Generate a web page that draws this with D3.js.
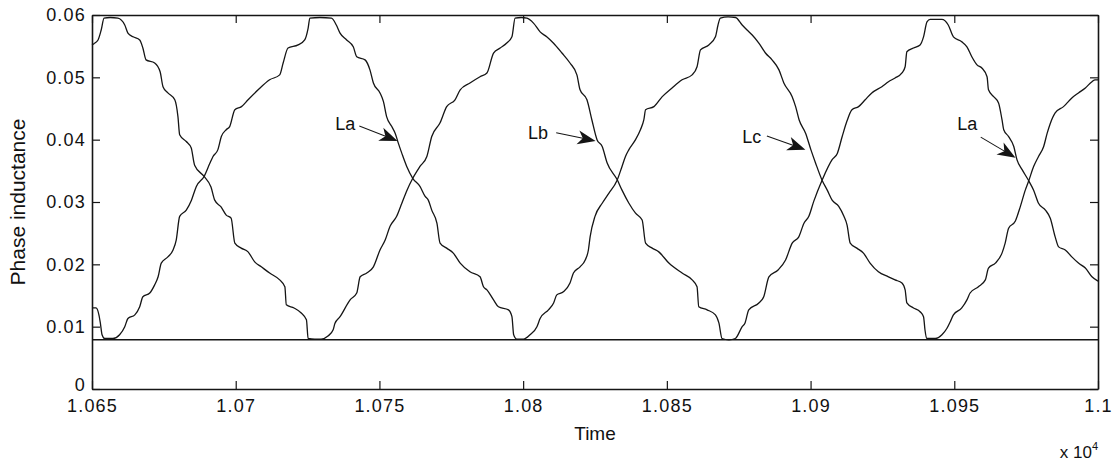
<!DOCTYPE html>
<html>
<head>
<meta charset="utf-8">
<script src="https://cdn.jsdelivr.net/npm/d3@7"></script>
<style>
  html, body { margin: 0; padding: 0; background: #fff; }
  svg { display: block; }
  text { font-family: "Liberation Sans", Arial, Helvetica, sans-serif; fill: #111; }
</style>
</head>
<body>
<svg id="chart" width="1118" height="465"></svg>
<script>
// Time axis (raw time units, shown scaled by 10^4)
const xTicks = [10650, 10700, 10750, 10800, 10850, 10900, 10950, 11000];
const xTickLabels = ["1.065", "1.07", "1.075", "1.08", "1.085", "1.09", "1.095", "1.1"];
const yTicks = [0, 0.01, 0.02, 0.03, 0.04, 0.05, 0.06];
const yTickLabels = ["0", "0.01", "0.02", "0.03", "0.04", "0.05", "0.06"];

// Minimum (unaligned) phase inductance
const minInductance = 0.0079;

// Phase inductance, first trace: [time, inductance]
const phaseCurve1 = [
  [10650,.0552],[10650.7,.0554],[10652.1,.0560],[10653.2,.0576],[10654.2,.0595],[10656.3,.0596],[10659.0,.0595],
  [10661.4,.0584],[10662.5,.0571],[10664.3,.0565],[10666.6,.0560],[10667.7,.0547],[10668.8,.0528],[10671.8,.0523],
  [10673.7,.0509],[10674.7,.0485],[10676.4,.0475],[10678.8,.0464],[10679.9,.0437],[10680.5,.0408],[10682.8,.0397],
  [10684.5,.0387],[10685.7,.0359],[10689.0,.0341],[10691.4,.0324],[10692.7,.0303],[10694.9,.0292],[10696.7,.0279],
  [10698.4,.0274],[10699.7,.0234],[10701.9,.0226],[10704.3,.0220],[10706.6,.0204],[10708.9,.0196],[10711.8,.0186],
  [10715.3,.0175],[10717.1,.0164],[10717.6,.0135],[10720.3,.0130],[10722.8,.0122],[10724.6,.0111],[10725.2,.0081],
  [10727.5,.0080],[10729.7,.0080],[10732.1,.0085],[10733.9,.0095],[10734.5,.0105],[10736.3,.0116],[10739.8,.0143],
  [10742.1,.0154],[10743.3,.0180],[10745.6,.0186],[10747.9,.0196],[10750.2,.0223],[10752.0,.0239],[10753.7,.0261],
  [10756.0,.0277],[10757.8,.0298],[10759.6,.0319],[10761.6,.0338],[10764.1,.0357],[10766.5,.0373],[10768.2,.0405],
  [10771.1,.0427],[10773.4,.0453],[10776.3,.0464],[10778.1,.0480],[10781.5,.0491],[10785.0,.0501],[10787.4,.0507],
  [10789.7,.0539],[10792.0,.0547],[10794.3,.0555],[10796.1,.0565],[10797.2,.0595],[10799.3,.0596],[10801.3,.0595],
  [10803.6,.0587],[10805.9,.0573],[10808.2,.0565],[10810.5,.0555],[10813.5,.0539],[10816.3,.0523],[10818.7,.0504],
  [10819.8,.0480],[10822.2,.0464],[10823.9,.0432],[10825.7,.0400],[10827.5,.0389],[10829.2,.0363],[10832.7,.0336],
  [10834.4,.0319],[10836.8,.0298],[10839.1,.0282],[10841.4,.0271],[10842.6,.0234],[10844.9,.0226],[10847.2,.0220],
  [10850.7,.0202],[10855.3,.0186],[10858.8,.0175],[10860.5,.0164],[10861.1,.0132],[10864.0,.0127],[10866.9,.0119],
  [10868.1,.0106],[10869.2,.0081],[10871.6,.0079],[10873.8,.0081],[10876.2,.0100],[10877.2,.0106],[10878.5,.0127],
  [10882.0,.0138],[10883.7,.0148],[10885.5,.0180],[10888.7,.0191],[10891.3,.0207],[10893.6,.0234],[10895.9,.0244],
  [10897.7,.0266],[10899.4,.0277],[10901.1,.0301],[10904.0,.0335],[10907.5,.0368],[10909.3,.0378],[10911.0,.0405],
  [10912.6,.0429],[10914.4,.0448],[10916.7,.0453],[10919.0,.0464],[10921.3,.0475],[10924.8,.0485],[10927.1,.0493],
  [10929.4,.0499],[10931.8,.0507],[10932.9,.0517],[10933.5,.0541],[10935.8,.0547],[10938.1,.0552],[10939.3,.0565],
  [10940.5,.0589],[10941.6,.0593],[10945.7,.0593],[10947.9,.0584],[10949.7,.0565],[10952.6,.0557],[10954.4,.0549],
  [10956.1,.0533],[10957.9,.0520],[10959.6,.0515],[10961.4,.0501],[10961.9,.0480],[10963.7,.0469],[10965.4,.0459],
  [10966.6,.0432],[10967.2,.0416],[10968.9,.0405],[10970.7,.0389],[10971.8,.0368],[10973.6,.0352],[10975.9,.0334],
  [10977.6,.0319],[10979.3,.0298],[10981.7,.0287],[10983.4,.0274],[10985.1,.0244],[10986.3,.0228],[10988.6,.0223],
  [10990.9,.0212],[10993.2,.0202],[10995.6,.0194],[10997.9,.0180],[11000,.0173]
];

// Phase inductance, second trace: [time, inductance]
const phaseCurve2 = [
  [10650,.0130],[10651.4,.0130],[10652.4,.0119],[10652.9,.0106],[10653.5,.0087],[10654.4,.0081],[10657.3,.0081],
  [10659.6,.0087],[10661.4,.0100],[10662.5,.0113],[10664.9,.0119],[10666.6,.0132],[10667.7,.0148],[10670.1,.0154],
  [10671.8,.0167],[10673.0,.0180],[10674.1,.0202],[10676.4,.0212],[10678.2,.0223],[10679.3,.0239],[10680.5,.0277],
  [10682.8,.0287],[10684.6,.0303],[10686.3,.0325],[10689.0,.0341],[10691.0,.0362],[10692.1,.0373],[10693.8,.0384],
  [10695.0,.0405],[10696.7,.0416],[10697.9,.0421],[10699.7,.0448],[10702.0,.0453],[10704.3,.0464],[10707.8,.0480],
  [10711.8,.0496],[10715.3,.0504],[10716.5,.0523],[10718.2,.0547],[10721.7,.0552],[10724.0,.0560],[10725.2,.0579],
  [10725.8,.0595],[10729.3,.0596],[10733.3,.0595],[10735.0,.0584],[10736.3,.0571],[10738.6,.0560],[10740.9,.0549],
  [10742.1,.0533],[10745.0,.0528],[10746.7,.0512],[10747.9,.0491],[10750.2,.0475],[10751.4,.0461],[10752.5,.0437],
  [10754.3,.0421],[10755.5,.0410],[10756.6,.0394],[10757.8,.0378],[10759.5,.0357],[10761.6,.0338],[10764.1,.0325],
  [10765.9,.0309],[10767.0,.0303],[10768.2,.0287],[10770.0,.0266],[10771.1,.0234],[10773.4,.0226],[10775.7,.0218],
  [10778.1,.0202],[10781.5,.0188],[10785.0,.0180],[10786.2,.0164],[10787.4,.0159],[10789.7,.0143],[10791.4,.0132],
  [10794.9,.0127],[10796.1,.0116],[10796.7,.0087],[10797.8,.0080],[10800.1,.0080],[10802.4,.0087],[10804.8,.0100],
  [10805.9,.0113],[10808.8,.0127],[10810.6,.0138],[10811.7,.0151],[10814.0,.0156],[10816.3,.0170],[10817.5,.0186],
  [10819.8,.0196],[10821.6,.0207],[10822.7,.0223],[10823.3,.0244],[10825.0,.0277],[10827.5,.0298],[10829.8,.0314],
  [10832.7,.0335],[10834.4,.0357],[10835.6,.0373],[10836.8,.0384],[10839.1,.0400],[10840.8,.0416],[10842.0,.0432],
  [10842.6,.0448],[10845.5,.0453],[10848.4,.0469],[10851.8,.0483],[10855.3,.0496],[10858.8,.0504],[10860.5,.0517],
  [10861.7,.0544],[10864.6,.0552],[10866.9,.0565],[10867.8,.0584],[10868.6,.0595],[10871.3,.0597],[10873.9,.0596],
  [10876.2,.0584],[10877.9,.0576],[10879.7,.0568],[10882.0,.0555],[10884.3,.0539],[10886.6,.0528],[10889.0,.0512],
  [10890.7,.0491],[10893.6,.0469],[10894.8,.0453],[10896.0,.0432],[10898.3,.0410],[10900.1,.0384],[10901.7,.0363],
  [10904.0,.0335],[10905.8,.0319],[10907.5,.0303],[10909.8,.0293],[10911.6,.0277],[10912.7,.0263],[10913.8,.0234],
  [10916.1,.0226],[10918.4,.0218],[10920.7,.0202],[10923.6,.0188],[10927.1,.0180],[10929.4,.0175],[10931.8,.0170],
  [10932.9,.0159],[10933.5,.0138],[10935.8,.0130],[10938.1,.0124],[10939.3,.0116],[10939.8,.0095],[10940.4,.0081],
  [10943.4,.0081],[10945.7,.0087],[10947.4,.0097],[10948.6,.0108],[10949.7,.0119],[10952.6,.0130],[10954.4,.0143],
  [10955.5,.0154],[10958.4,.0164],[10960.8,.0175],[10961.9,.0194],[10964.3,.0202],[10966.6,.0218],[10967.7,.0234],
  [10968.9,.0258],[10971.2,.0269],[10973.0,.0293],[10974.7,.0319],[10975.9,.0334],[10977.6,.0357],[10979.3,.0373],
  [10981.1,.0389],[10982.3,.0410],[10983.4,.0426],[10985.1,.0443],[10988.0,.0453],[10990.9,.0467],[10993.2,.0475],
  [10995.6,.0483],[10997.9,.0493],[10999.0,.0496],[11000,.0496]
];

// Phase annotations: label anchor [time, value], arrow tail and arrow tip
const annotationNames = ["La", "Lb", "Lc", "La"];
const annotationLabelAt = [[10734.6, 0.0415], [10801.7, 0.0401], [10876.2, 0.0395], [10951.0, 0.0416]];
const annotationArrowFrom = [[10743.0, 0.0422], [10811.5, 0.0411], [10884.8, 0.0406], [10959.2, 0.0404]];
const annotationArrowTo = [[10756.3, 0.0398], [10825.2, 0.0398], [10898.2, 0.0384], [10971.3, 0.0371]];

const svg = d3.select("#chart");
const margin = { left: 92, right: 20, top: 15, bottom: 76 };
const W = 1118, H = 465;
const x = d3.scaleLinear().domain([10650, 11000]).range([margin.left, W - margin.right]);
const y = d3.scaleLinear().domain([0, 0.06]).range([H - margin.bottom, margin.top]);

const ink = "#151515";
const tickLen = 8;

// Axes with inward ticks on all four sides (boxed plot)
const fontSize = "18px";
const gx = svg.append("g").attr("transform", `translate(0,${y(0)})`)
  .call(d3.axisBottom(x).tickValues(xTicks).tickFormat((d, i) => xTickLabels[i])
    .tickSizeInner(-tickLen).tickSizeOuter(0).tickPadding(12));
const gy = svg.append("g").attr("transform", `translate(${x(10650)},0)`)
  .call(d3.axisLeft(y).tickValues(yTicks).tickFormat((d, i) => yTickLabels[i])
    .tickSizeInner(-tickLen).tickSizeOuter(0).tickPadding(6));
const gt = svg.append("g").attr("transform", `translate(0,${y(0.06)})`)
  .call(d3.axisTop(x).tickValues(xTicks).tickFormat("").tickSizeInner(-tickLen).tickSizeOuter(0));
const gr = svg.append("g").attr("transform", `translate(${x(11000)},0)`)
  .call(d3.axisRight(y).tickValues(yTicks).tickFormat("").tickSizeInner(-tickLen).tickSizeOuter(0));

[gx, gy, gt, gr].forEach(g => {
  g.select(".domain").attr("stroke", ink).attr("stroke-width", 1.6);
  g.selectAll(".tick line").attr("stroke", ink).attr("stroke-width", 1.2);
  g.selectAll(".tick text").attr("font-size", fontSize).attr("fill", ink)
    .style("letter-spacing", "1.2px");
});
gx.selectAll(".tick text").attr("dy", "0.6em");
// keep the zero label clear of the first time label
gy.selectAll(".tick text").filter(d => d === 0).attr("dy", "0.08em");

// Axis titles
svg.append("text").attr("x", (x(10650) + x(11000)) / 2).attr("y", 440)
  .attr("text-anchor", "middle").attr("font-size", "19px").text("Time");
svg.append("text").attr("transform", `translate(25,${(y(0) + y(0.06)) / 2}) rotate(-90)`)
  .attr("text-anchor", "middle").attr("font-size", "21px").text("Phase inductance");
const mult = svg.append("text").attr("x", 1098).attr("y", 458).attr("text-anchor", "end")
  .attr("font-size", "17px");
mult.append("tspan").text("x 10");
mult.append("tspan").attr("dy", -8).attr("font-size", "11px").text("4");

// Minimum inductance level
svg.append("line")
  .attr("x1", x(10650)).attr("x2", x(11000))
  .attr("y1", y(minInductance)).attr("y2", y(minInductance))
  .attr("stroke", ink).attr("stroke-width", 1.3);

// Inductance traces
const line = d3.line().x(d => x(d[0])).y(d => y(d[1])).curve(d3.curveMonotoneX);
[phaseCurve1, phaseCurve2].forEach(series => {
  svg.append("path").datum(series)
    .attr("d", line)
    .attr("fill", "none")
    .attr("stroke", ink)
    .attr("stroke-width", 1.3)
    .attr("stroke-linejoin", "round");
});

// Annotation labels with barbed arrows
annotationNames.forEach((name, i) => {
  const [lt, lv] = annotationLabelAt[i];
  svg.append("text").attr("x", x(lt)).attr("y", y(lv)).attr("font-size", "18px").text(name);
  const x0 = x(annotationArrowFrom[i][0]), y0 = y(annotationArrowFrom[i][1]);
  const x1 = x(annotationArrowTo[i][0]), y1 = y(annotationArrowTo[i][1]);
  const ang = Math.atan2(y1 - y0, x1 - x0);
  const len = Math.hypot(x1 - x0, y1 - y0);
  const g = svg.append("g").attr("transform", `translate(${x0},${y0}) rotate(${ang * 180 / Math.PI})`);
  g.append("line").attr("x1", 0).attr("y1", 0).attr("x2", len - 8).attr("y2", 0)
    .attr("stroke", ink).attr("stroke-width", 1);
  const hl = 18, hw = 7, notch = 5;
  g.append("path")
    .attr("d", `M${len},0 L${len - hl},${-hw} L${len - hl + notch},0 L${len - hl},${hw} Z`)
    .attr("fill", ink);
});
</script>
</body>
</html>
